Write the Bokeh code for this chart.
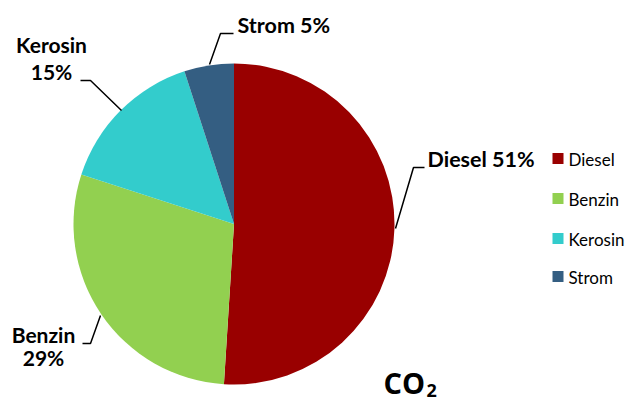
import numpy as np
from bokeh.plotting import figure
from bokeh.models import Range1d, ColumnDataSource
from bokeh.core.properties import value
from bokeh.embed import file_html
from bokeh.resources import INLINE

# ---- data ----
categories = ["Diesel", "Benzin", "Kerosin", "Strom"]
shares = [51, 29, 15, 5]
colors = ["#990000", "#92D050", "#33CCCC", "#345E82"]
title_main = "CO"
title_sub = "2"

# ---- layout (screen pixel coordinates, y measured downward -> negated) ----
W, H = 630, 403
p = figure(width=W, height=H, output_backend="svg", toolbar_location=None,
           x_range=Range1d(0, W), y_range=Range1d(-H, 0),
           min_border=0, outline_line_color=None)
p.axis.visible = False
p.grid.visible = False
p.background_fill_color = "white"

cx, cy, r = 233.5, -223.5, 160.5
frac = np.array(shares, dtype=float) / sum(shares)
cum = np.concatenate([[0], np.cumsum(frac)])
start = np.pi / 2 - 2 * np.pi * cum[:-1]
end = np.pi / 2 - 2 * np.pi * cum[1:]
src = ColumnDataSource(dict(start=start, end=end, color=colors))
p.wedge(x=cx, y=cy, radius=r, start_angle="start", end_angle="end",
        direction="clock", fill_color="color", line_color=None, source=src)

# leader lines
lead_x = [[395, 413, 424], [121, 90, 80], [100, 90, 82], [209, 220, 233]]
lead_y = [[228, 167, 167], [110, 80, 80], [315, 343, 343], [64, 33, 33]]
p.multi_line(xs=lead_x, ys=[[-v for v in ys] for ys in lead_y],
             line_color="black", line_width=1.5)

font = value("Lato")
lbl = [f"{c} {s}%" for c, s in zip(categories, shares)]
# single-line labels (Diesel, Strom)
p.text(x=[427, 237], y=[-158, -24], text=[lbl[0], lbl[3]],
       text_font=font, text_font_style="bold", text_font_size="21.5px",
       text_baseline="alphabetic", text_align="left", text_color="black")
# two-line labels (Kerosin, Benzin)
p.text(x=[51, 51, 43, 43], y=[-44, -71, -334, -357],
       text=[categories[2], f"{shares[2]}%", categories[1], f"{shares[1]}%"],
       text_font=font, text_font_style="bold", text_font_size="21px",
       text_baseline="alphabetic", text_align="center", text_color="black")

# legend
leg_y = [-158, -198, -238, -276]
p.scatter(x=[557.5] * 4, y=leg_y, marker="square", size=11,
          fill_color=colors, line_color=None)
p.text(x=[568] * 4, y=[v - 1 for v in leg_y], text=categories,
       text_font=font, text_font_size="17px", text_baseline="alphabetic",
       text_align="left", text_color="black")

# CO2 title
p.text(x=[383], y=[-382], text=[title_main], text_font=value("Open Sans"),
       text_font_style="bold", text_font_size="29px",
       text_baseline="alphabetic", text_align="left", text_color="black")
p.text(x=[426], y=[-390], text=[title_sub], text_font=value("Open Sans"),
       text_font_style="bold", text_font_size="18px",
       text_baseline="alphabetic", text_align="left", text_color="black")

open("out.html", "w").write(file_html(p, INLINE))
